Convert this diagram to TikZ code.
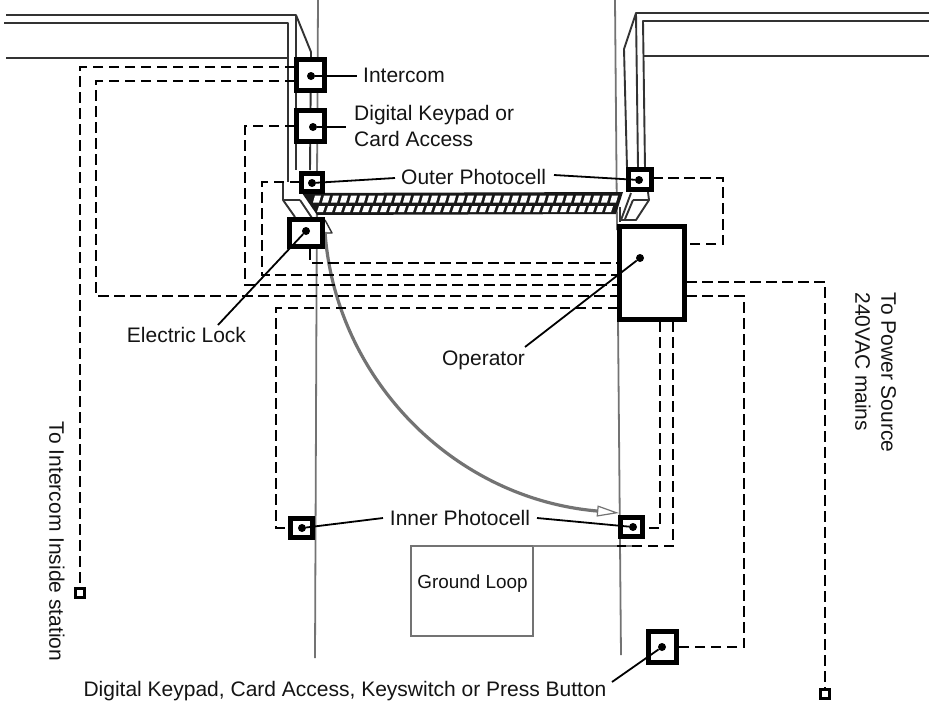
\documentclass[tikz,border=0pt]{standalone}
\usepackage{fontspec}
\setmainfont{Liberation Sans}
\usetikzlibrary{arrows.meta}
\tikzset{
 x=1pt,y=-1pt,
 wall/.style={draw=black!80,line width=1.9pt,line join=round},
 road/.style={draw=black!55,line width=1.8pt},
 wire/.style={draw=black,line width=2.6pt,dash pattern=on 10.5pt off 5.5pt},
 box/.style={draw=black,fill=white,line width=5pt,minimum width=#1,inner sep=0pt,outer sep=0pt},
 lead/.style={draw=black,line width=1.8pt},
 dot/.style={circle,fill=black,inner sep=0pt,minimum size=8pt},
 term/.style={draw=black,fill=white,line width=2.8pt,minimum size=9.5pt,inner sep=0pt,outer sep=0pt},
 lab/.style={font=\fontsize{21}{26}\selectfont,inner sep=0pt,align=left,text=black!92},
}
\begin{document}
\begin{tikzpicture}
\useasboundingbox (0,0) rectangle (929,702);
% roads
\draw[road] (318,0) -- (317,180) -- (315,658);
\draw[road] (615,0) -- (617,230) (618,320) -- (621,655);
% walls left
\draw[wall] (6,15) -- (296,15) -- (296,170);
\draw[wall] (4,23) -- (288,23) -- (288,182);
\draw[wall] (6,58) -- (288,58);
\draw[wall] (296,15) -- (311,52) -- (310,170);
\draw[wall] (283,183) -- (283,200) -- (300,200);
\draw[wall] (283,200) -- (295,217);
\draw[wall] (300,200) -- (312,218);
% walls right
\draw[wall] (929,13) -- (636,13) -- (624,49) -- (627,168);
\draw[wall] (636,13) -- (638,168);
\draw[wall] (929,21) -- (643,21) -- (645,168);
\draw[wall] (643,56) -- (929,56);
\draw[wall] (648,192) -- (649,200) -- (636,220) -- (621,220) -- (631,193);
\draw[wall] (633,200) -- (649,200);
\draw[wall] (633,200) -- (625,219);
\draw[wall] (620,207) -- (620,222);
% gate
\fill[black!90] (302,193) -- (623,192) -- (616,214) -- (317,215) -- cycle;
\foreach \i in {0,...,33}{
 \fill[white] ({315+\i*9},195.5) -- ({321+\i*9},195.5) -- ({319+\i*9},202.5) -- ({313+\i*9},202.5) -- cycle;
}
\foreach \i in {0,...,32}{
 \fill[white] ({319+\i*9},206) -- ({325+\i*9},206) -- ({323+\i*9},212) -- ({317+\i*9},212) -- cycle;
}
% swing arc
\coordinate (arcS) at (325,232);
\coordinate (arcE) at (619,513);
\draw[wall,line width=1.4pt] (325,220) -- (332,233) -- (325,233);
\draw[draw=black!55,line width=3.2pt,-{Triangle[open,length=22pt,width=11pt,line width=1.2pt,fill=white]}] (arcS) .. controls (335,375) and (450,498) .. (597,511) -- (arcE);
% ground loop
\node[draw=black!55,line width=1.4pt,minimum width=122pt,minimum height=90pt,inner sep=0pt,outer sep=0pt] (loop) at (472,591) {};
\node[lab,font=\fontsize{18.9}{23}\selectfont] (looplab) at (472.5,584) {Ground Loop};
\draw[draw=black!50,line width=1.4pt] (loop.north east) -- (640,546);
% wires
\coordinate (iA) at (295,67);
\coordinate (iB) at (295,81);
\coordinate (opA) at (618,263);
\coordinate (opB) at (618,275);
\coordinate (opC) at (618,285);
\coordinate (opD) at (618,296);
\coordinate (opE) at (618,308);
\coordinate (opF) at (686,244);
\coordinate (opG) at (686,282);
\coordinate (opH) at (686,296);
\coordinate (opI) at (660,321);
\coordinate (opJ) at (673,321);
\draw[wire] (iA) -- (80,67) -- (80,587);
\draw[wire] (iB) -- (96,81) -- (96,296) -- (opD);
\draw[wire] (295,126) -- (245,126) -- (245,285) -- (opC);
\draw[wire] (300,182) -- (262,182) -- (262,275) -- (opB);
\draw[wire] (310,249) -- (310,263) -- (opA);
\draw[wire] (652,178) -- (723,178) -- (723,244) -- (opF);
\draw[wire] (opG) -- (825,282) -- (825,688);
\draw[wire] (opH) -- (744,296) -- (744,647) -- (678,647);
\draw[wire] (opE) -- (276,308) -- (276,528) -- (290,528);
\draw[wire] (opI) -- (660,528) -- (644,528);
\draw[wire] (opJ) -- (673,546) -- (617,546);
% boxes
\node[box=28pt,minimum height=31pt] (intercom) at (310.5,75) {};
\node[box=28pt,minimum height=31pt] (keypad) at (310.5,126) {};
\node[box=21.5pt,minimum height=18pt] (outerL) at (312,182) {};
\node[box=23.5pt,minimum height=20.5pt] (outerR) at (640,179.5) {};
\node[box=33pt,minimum height=27pt] (lock) at (306,233) {};
\node[box=65pt,minimum height=93pt] (operator) at (652,273) {};
\node[box=22pt,minimum height=19pt] (innerL) at (301.5,528) {};
\node[box=22pt,minimum height=19pt] (innerR) at (631.5,527) {};
\node[box=28pt,minimum height=31pt] (kp2) at (662.5,647) {};
% terminals
\node[term] (termI) at (80,593) {};
\node[term] (termP) at (825,694) {};
% leads and dots
\node[dot] (d1) at (311,76) {};
\node[dot] (d2) at (313,127) {};
\node[dot] (d3) at (312,183) {};
\node[dot] (d4) at (639,180) {};
\node[dot] (d5) at (306,231) {};
\node[dot] (d6) at (640,258) {};
\node[dot] (d7) at (302,528) {};
\node[dot] (d8) at (633,527) {};
\node[dot] (d9) at (662,647) {};
% labels
\node[lab,anchor=west] (t1) at (363,75) {Intercom};
\node[lab,anchor=west] (t2) at (354,126) {Digital Keypad or\\Card Access};
\node[lab,anchor=west] (t3) at (401,177) {Outer Photocell};
\node[lab] (t4) at (186.5,335) {Electric Lock};
\node[lab] (t5) at (483.5,360) {Operator};
\node[lab] (t6) at (460,518) {Inner Photocell};
\node[lab] (t7) at (345,691) {Digital Keypad, Card Access, Keyswitch or Press Button};
\node[lab,rotate=-90] (t8) at (875.5,372.5) {To Power Source\\240VAC mains};
\node[lab,rotate=-90] (t9) at (57,541.5) {To Intercom Inside station};
\coordinate (e1) at (357,76);
\coordinate (e2) at (346,127);
\coordinate (e3) at (395,178);
\coordinate (e4) at (554,175);
\coordinate (e5) at (218,325);
\coordinate (e6) at (525,347);
\coordinate (e7) at (383,518);
\coordinate (e8) at (537,518);
\coordinate (e9) at (612,682);
\draw[lead] (d1) -- (e1);
\draw[lead] (d2) -- (e2);
\draw[lead] (d3) -- (e3);
\draw[lead] (d4) -- (e4);
\draw[lead] (d5) -- (e5);
\draw[lead] (d6) -- (e6);
\draw[lead] (d7) -- (e7);
\draw[lead] (d8) -- (e8);
\draw[lead] (d9) -- (e9);
\end{tikzpicture}
\end{document}
